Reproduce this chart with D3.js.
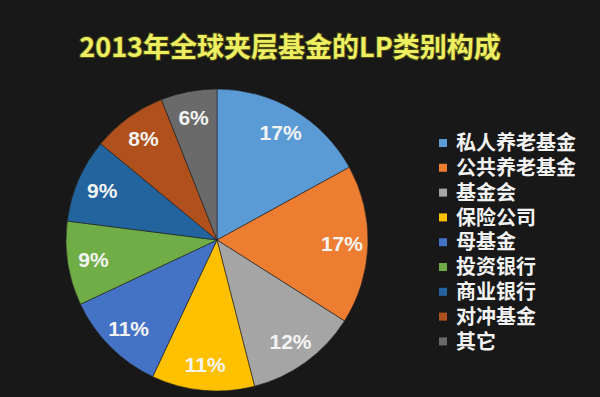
<!DOCTYPE html>
<html>
<head>
<meta charset="utf-8">
<script src="https://cdn.jsdelivr.net/npm/d3@7"></script>
<style>
  body { margin: 0; background: #181818; }
  svg { display: block; }
</style>
</head>
<body>
<div id="chart"></div>
<script>
const categories = ["私人养老基金", "公共养老基金", "基金会", "保险公司", "母基金", "投资银行", "商业银行", "对冲基金", "其它"];
const shares = [17, 17, 12, 11, 11, 9, 9, 8, 6];
const colors = ["#5b9bd5", "#ed7d31", "#a5a5a5", "#ffc000", "#4472c4", "#70ad47", "#23649e", "#b0501c", "#6a6a6a"];
const title = "2013年全球夹层基金的LP类别构成";

const width = 600, height = 397;
const cx = 217, cy = 240, radius = 151;

const svg = d3.select("#chart")
    .append("svg")
    .attr("width", width)
    .attr("height", height);

svg.append("rect")
    .attr("width", width)
    .attr("height", height)
    .attr("fill", "#181818");

// 标题
svg.append("text")
    .attr("x", 290)
    .attr("y", 57)
    .attr("text-anchor", "middle")
    .style("font-family", "'Noto Sans CJK SC', sans-serif")
    .style("font-weight", "bold")
    .style("font-size", "27px")
    .style("fill", "#eeee62")
    .style("stroke", "#4a4a14")
    .style("stroke-width", "2px")
    .style("paint-order", "stroke")
    .text(title);

const data = categories.map((c, i) => ({ name: c, value: shares[i], color: colors[i] }));

const pie = d3.pie()
    .sort(null)
    .value(d => d.value);

const arc = d3.arc().innerRadius(0).outerRadius(radius);
const labelArc = d3.arc().innerRadius(125).outerRadius(125);

const g = svg.append("g")
    .attr("transform", `translate(${cx},${cy})`);

const arcs = pie(data);

g.selectAll("path")
    .data(arcs)
    .enter()
    .append("path")
    .attr("d", arc)
    .attr("fill", d => d.data.color)
    .attr("stroke", "#222")
    .attr("stroke-width", 0.6);

// 百分比标签
g.selectAll("text.pct")
    .data(arcs)
    .enter()
    .append("text")
    .attr("class", "pct")
    .attr("transform", d => `translate(${labelArc.centroid(d)})`)
    .attr("text-anchor", "middle")
    .attr("dy", "0.36em")
    .style("font-family", "'Liberation Sans', Arial, sans-serif")
    .style("font-weight", "bold")
    .style("font-size", "21px")
    .style("fill", "#f4f4f4")
    .text(d => d.data.value + "%");

// 图例
const legend = svg.append("g")
    .attr("transform", "translate(439,143)");

const y = d3.scaleBand()
    .domain(categories)
    .range([0, 9 * 24.8])
    .paddingInner(0);

const item = legend.selectAll("g")
    .data(data)
    .enter()
    .append("g")
    .attr("transform", d => `translate(0,${y(d.name)})`);

item.append("rect")
    .attr("x", 0)
    .attr("y", -4)
    .attr("width", 8)
    .attr("height", 8)
    .attr("fill", d => d.color);

item.append("text")
    .attr("x", 17)
    .attr("dy", "0.36em")
    .style("font-family", "'Noto Sans CJK SC', sans-serif")
    .style("font-weight", "bold")
    .style("font-size", "20px")
    .style("fill", "#f2f2f2")
    .text(d => d.name);
</script>
</body>
</html>
